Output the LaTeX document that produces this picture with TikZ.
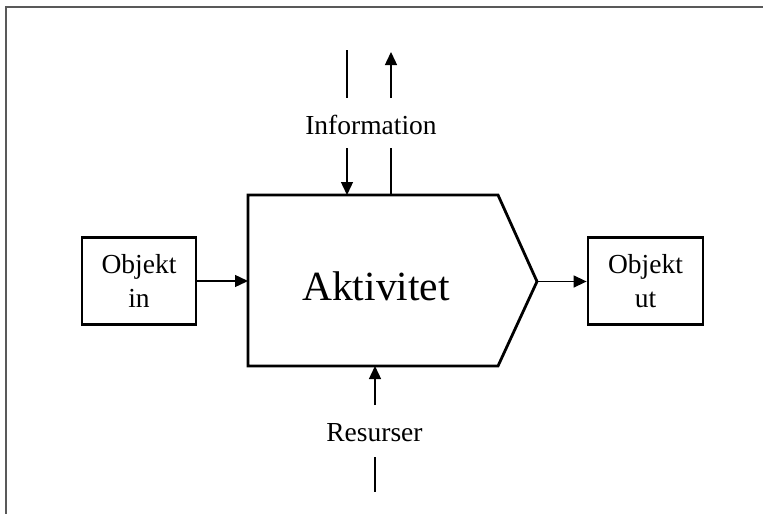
\documentclass[tikz,border=0pt]{standalone}
\usepackage{fontspec}
\setmainfont{Liberation Serif}
\usetikzlibrary{arrows.meta}
\begin{document}
\begin{tikzpicture}[x=1pt,y=-1pt,
  frameline/.style={draw=black!65,line width=2pt},
  boxline/.style={draw,line width=2.8pt},
  objbox/.style={boxline,rectangle,inner sep=0pt,align=center,
    minimum width=114pt,minimum height=87pt,
    font=\fontsize{27.5}{34}\selectfont},
  lbl/.style={inner sep=0pt,anchor=base,font=\fontsize{27.5}{34}\selectfont},
  conn/.style={line width=1.4pt},
  arr/.style={conn,-{Triangle[length=13pt,width=12pt]}}]
\useasboundingbox (0,0) rectangle (763,514);
% frame (only top and left edges visible)
\draw[frameline] (6,514) -- (6,7) -- (763,7);
% activity shape
\coordinate (tl) at (248,195);
\coordinate (tr) at (498,195);
\coordinate (tip) at (537,281.5);
\coordinate (br) at (498,366);
\coordinate (bl) at (248,366);
\draw[boxline,line join=miter] (tl) -- (tr) -- (tip) -- (br) -- (bl) -- cycle;
\node[inner sep=0pt,anchor=base,font=\fontsize{41.5}{48}\selectfont] (akt) at (376,300) {Aktivitet};
% object boxes
\node[objbox] (objin) at (139,281) {Objekt\\in};
\node[objbox,minimum width=115pt] (objut) at (645.5,281) {Objekt\\ut};
\draw[arr] (objin.east) -- (objin.east -| tl);
\draw[arr] (tip) -- (tip -| objut.west);
% information
\node[lbl] (info) at (371,134) {Information};
\coordinate (i1a) at (347,50);
\coordinate (i1b) at (347,98);
\coordinate (i1c) at (347,148);
\coordinate (i1d) at (347,195);
\coordinate (i2a) at (391,52);
\coordinate (i2b) at (391,98);
\coordinate (i2c) at (391,148);
\coordinate (i2d) at (391,195);
\draw[conn] (i1a) -- (i1b);
\draw[arr] (i1c) -- (i1d);
\draw[conn] (i2d) -- (i2c);
\draw[arr] (i2b) -- (i2a);
% resources
\node[lbl] (res) at (374.5,441.5) {Resurser};
\coordinate (r1a) at (375,405);
\coordinate (r1b) at (375,366);
\coordinate (r2a) at (375,457);
\coordinate (r2b) at (375,492);
\draw[arr] (r1a) -- (r1b);
\draw[conn] (r2a) -- (r2b);
\end{tikzpicture}
\end{document}
